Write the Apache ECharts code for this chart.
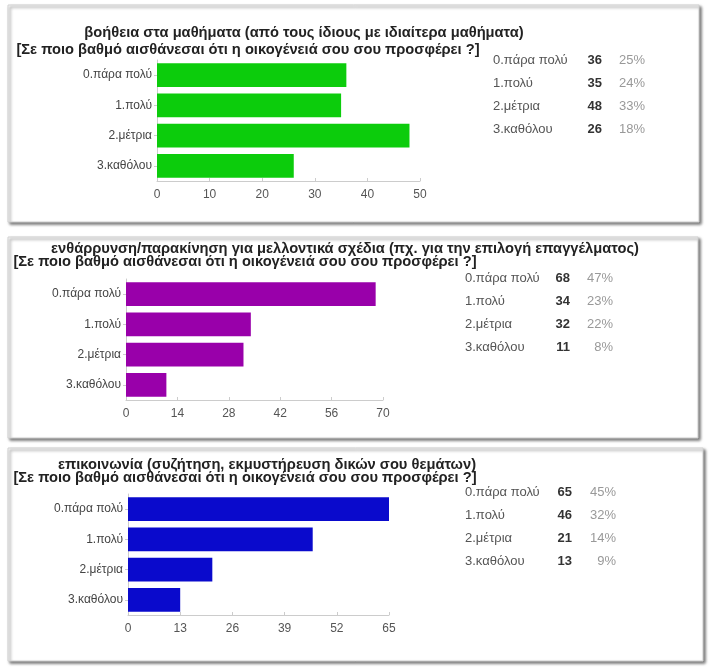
<!DOCTYPE html>
<html>
<head>
<meta charset="utf-8">
<script src="https://cdn.jsdelivr.net/npm/echarts@6/dist/echarts.min.js"></script>
<style>
  html, body { margin: 0; padding: 0; background: #fff; }
  #chart { width: 709px; height: 669px; }
</style>
</head>
<body>
<div id="chart"></div>
<script>
  // ---- data ----
  const categories = ['0.πάρα πολύ', '1.πολύ', '2.μέτρια', '3.καθόλου'];

  const helpTitle = ['βοήθεια στα μαθήματα (από τους ίδιους με ιδιαίτερα μαθήματα)',
    '[Σε ποιο βαθμό αισθάνεσαι ότι η οικογένειά σου σου προσφέρει ?]'];
  const helpValues = [36, 35, 48, 26];
  const helpPct = ['25%', '24%', '33%', '18%'];

  const encTitle = ['ενθάρρυνση/παρακίνηση για μελλοντικά σχέδια (πχ. για την επιλογή επαγγέλματος)',
    '[Σε ποιο βαθμό αισθάνεσαι ότι η οικογένειά σου σου προσφέρει ?]'];
  const encValues = [68, 34, 32, 11];
  const encPct = ['47%', '23%', '22%', '8%'];

  const commTitle = ['επικοινωνία (συζήτηση, εκμυστήρευση δικών σου θεμάτων)',
    '[Σε ποιο βαθμό αισθάνεσαι ότι η οικογένειά σου σου προσφέρει ?]'];
  const commValues = [65, 46, 21, 13];
  const commPct = ['45%', '32%', '14%', '9%'];

  const axisMax = [50, 70, 65];
  const axisStep = [10, 14, 13];

  // ---- layout of the three panels ----
  const FONT = '"Liberation Sans", Arial, sans-serif';
  const panels = [
    { box: [8, 5, 691, 217], grid: [157, 60, 263, 121], title: [[304, 33], [248, 50]],
      legend: [493, 602, 645, 60], color: '#0ccc0c', values: helpValues, pct: helpPct, title_: helpTitle },
    { box: [8, 237, 690, 201], grid: [126, 279, 257, 121], title: [[345, 249], [245, 262]],
      legend: [465, 570, 613, 278], color: '#9900aa', values: encValues, pct: encPct, title_: encTitle },
    { box: [8, 448, 695, 213], grid: [128, 494, 261, 121], title: [[267, 465], [245, 478]],
      legend: [465, 572, 616, 492], color: '#0a0acc', values: commValues, pct: commPct, title_: commTitle }
  ];

  let myChart = echarts.init(document.getElementById('chart'));

  let grids = [], xAxes = [], yAxes = [], series = [], graphics = [];

  panels.forEach((p, i) => {
    // panel frame with shadow
    graphics.push({
      type: 'rect', z: -10,
      shape: { x: p.box[0], y: p.box[1], width: p.box[2], height: p.box[3] },
      style: { fill: '#fff', stroke: '#d0d0d0', lineWidth: 1,
        shadowBlur: 3, shadowOffsetX: 2, shadowOffsetY: 2, shadowColor: 'rgba(0,0,0,0.55)' }
    });
    // title, two lines
    p.title_.forEach((t, k) => {
      graphics.push({
        type: 'text', z: 5,
        style: { text: t, x: p.title[k][0], y: p.title[k][1], textAlign: 'center', textVerticalAlign: 'middle',
          font: 'bold 14.7px ' + FONT, fill: '#222' }
      });
    });
    // legend table
    categories.forEach((c, r) => {
      let y = p.legend[3] + r * 23.3;
      graphics.push({ type: 'text', z: 5,
        style: { text: c, x: p.legend[0], y: y, textVerticalAlign: 'middle', font: '13px ' + FONT, fill: '#555' } });
      graphics.push({ type: 'text', z: 5,
        style: { text: String(p.values[r]), x: p.legend[1], y: y, textAlign: 'right', textVerticalAlign: 'middle',
          font: 'bold 13px ' + FONT, fill: '#333' } });
      graphics.push({ type: 'text', z: 5,
        style: { text: p.pct[r], x: p.legend[2], y: y, textAlign: 'right', textVerticalAlign: 'middle',
          font: '13px ' + FONT, fill: '#999' } });
    });

    grids.push({ left: p.grid[0], top: p.grid[1], width: p.grid[2], height: p.grid[3] });
    xAxes.push({
      type: 'value', gridIndex: i, min: 0, max: axisMax[i], interval: axisStep[i],
      splitLine: { show: false },
      axisLine: { show: true, lineStyle: { color: '#ccc' } },
      axisTick: { show: true, inside: true, length: 3, lineStyle: { color: '#ccc' } },
      axisLabel: { color: '#555', fontSize: 12, fontFamily: FONT, margin: 8 }
    });
    yAxes.push({
      type: 'category', gridIndex: i, data: categories, inverse: true,
      axisLine: { show: true, lineStyle: { color: '#ccc' } },
      axisTick: { show: true, alignWithLabel: true, length: 3, lineStyle: { color: '#ccc' } },
      axisLabel: { color: '#444', fontSize: 12, fontFamily: FONT, margin: 5 }
    });
    series.push({
      type: 'bar', xAxisIndex: i, yAxisIndex: i, data: p.values,
      barCategoryGap: '22%', itemStyle: { color: p.color }, z: 3
    });
  });

  myChart.setOption({
    animation: false,
    grid: grids,
    xAxis: xAxes,
    yAxis: yAxes,
    series: series,
    graphic: graphics
  });
</script>
</body>
</html>
